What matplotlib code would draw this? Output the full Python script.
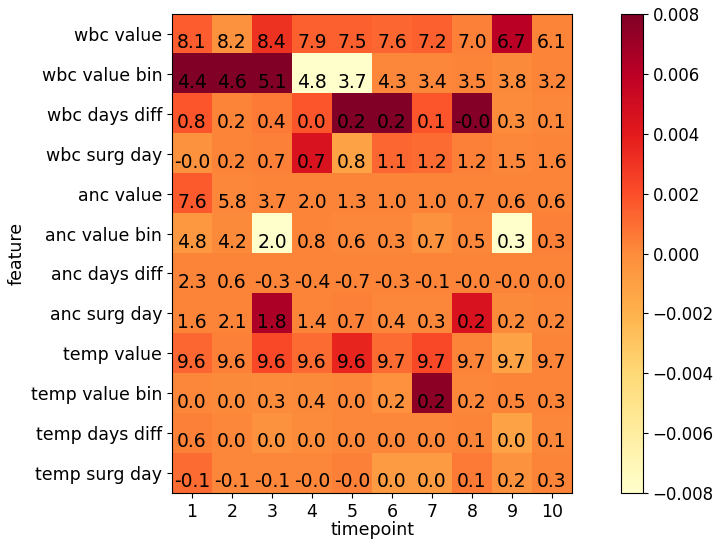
import numpy as np
import matplotlib
matplotlib.use('Agg')
import matplotlib.pyplot as plt

features = ["wbc value", "wbc value bin", "wbc days diff", "wbc surg day",
            "anc value", "anc value bin", "anc days diff", "anc surg day",
            "temp value", "temp value bin", "temp days diff", "temp surg day"]
timepoints = [1, 2, 3, 4, 5, 6, 7, 8, 9, 10]

# cell colour values (importance)
importance = np.array([
    [0.0015, -0.0003, 0.0030, 0.0014, 0.0014, 0.0012, 0.0014, 0.0004, 0.0060, 0.0003],
    [0.0090, 0.0090, 0.0090, -0.0090, -0.0090, 0.0002, 0.0002, 0.0003, 0.0001, 0.0003],
    [0.0018, 0.0003, 0.0006, 0.0018, 0.0090, 0.0090, 0.0018, 0.0078, 0.0000, 0.0002],
    [-0.0003, 0.0003, 0.0004, 0.0045, -0.0012, 0.0012, 0.0010, 0.0004, 0.0002, 0.0003],
    [0.0016, 0.0002, 0.0003, 0.0003, 0.0003, 0.0003, 0.0003, 0.0003, 0.0003, 0.0003],
    [-0.0006, 0.0001, -0.0090, 0.0003, 0.0002, 0.0002, -0.0003, 0.0002, -0.0090, 0.0004],
    [0.0003, 0.0003, 0.0003, 0.0003, 0.0003, 0.0003, 0.0003, 0.0003, 0.0003, 0.0003],
    [0.0003, 0.0003, 0.0065, 0.0003, 0.0004, 0.0002, 0.0002, 0.0045, 0.0001, 0.0002],
    [0.0012, 0.0004, 0.0022, 0.0010, 0.0036, 0.0010, 0.0022, 0.0003, -0.0012, 0.0003],
    [0.0002, 0.0001, 0.0000, 0.0001, 0.0002, -0.0002, 0.0075, 0.0002, 0.0003, 0.0003],
    [0.0004, 0.0002, -0.0003, 0.0000, 0.0002, 0.0002, 0.0002, 0.0003, -0.0012, 0.0002],
    [0.0010, 0.0002, 0.0002, 0.0002, 0.0004, -0.0008, -0.0008, 0.0006, -0.0003, 0.0003],
])

# annotated values
labels = [
    ["8.1", "8.2", "8.4", "7.9", "7.5", "7.6", "7.2", "7.0", "6.7", "6.1"],
    ["4.4", "4.6", "5.1", "4.8", "3.7", "4.3", "3.4", "3.5", "3.8", "3.2"],
    ["0.8", "0.2", "0.4", "0.0", "0.2", "0.2", "0.1", "-0.0", "0.3", "0.1"],
    ["-0.0", "0.2", "0.7", "0.7", "0.8", "1.1", "1.2", "1.2", "1.5", "1.6"],
    ["7.6", "5.8", "3.7", "2.0", "1.3", "1.0", "1.0", "0.7", "0.6", "0.6"],
    ["4.8", "4.2", "2.0", "0.8", "0.6", "0.3", "0.7", "0.5", "0.3", "0.3"],
    ["2.3", "0.6", "-0.3", "-0.4", "-0.7", "-0.3", "-0.1", "-0.0", "-0.0", "0.0"],
    ["1.6", "2.1", "1.8", "1.4", "0.7", "0.4", "0.3", "0.2", "0.2", "0.2"],
    ["9.6", "9.6", "9.6", "9.6", "9.6", "9.7", "9.7", "9.7", "9.7", "9.7"],
    ["0.0", "0.0", "0.3", "0.4", "0.0", "0.2", "0.2", "0.2", "0.5", "0.3"],
    ["0.6", "0.0", "0.0", "0.0", "0.0", "0.0", "0.0", "0.1", "0.0", "0.1"],
    ["-0.1", "-0.1", "-0.1", "-0.0", "-0.0", "0.0", "0.0", "0.1", "0.2", "0.3"],
]

fig = plt.figure(figsize=(7.15, 5.39), dpi=100)
ax = fig.add_axes([0.2406, 0.0853, 0.5594, 0.8887])
cax = fig.add_axes([0.8685, 0.0853, 0.0308, 0.8887])

im = ax.imshow(importance, cmap='YlOrRd', vmin=-0.008, vmax=0.008, aspect='auto')

for i in range(len(features)):
    for j in range(len(timepoints)):
        ax.text(j, i + 0.22, labels[i][j], ha='center', va='center',
                fontsize=13.5, color='black')

ax.set_xticks(range(len(timepoints)))
ax.set_xticklabels(timepoints, fontsize=12.5)
ax.set_yticks(range(len(features)))
ax.set_yticklabels(features, fontsize=12.5)
ax.set_xlabel('timepoint', fontsize=12.5, labelpad=0)
ax.set_ylabel('feature', fontsize=12.5)

cb = fig.colorbar(im, cax=cax)
cb.set_ticks([-0.008, -0.006, -0.004, -0.002, 0.0, 0.002, 0.004, 0.006, 0.008])
cb.ax.tick_params(labelsize=12)

plt.savefig('out.png', dpi=100)
plt.close()
